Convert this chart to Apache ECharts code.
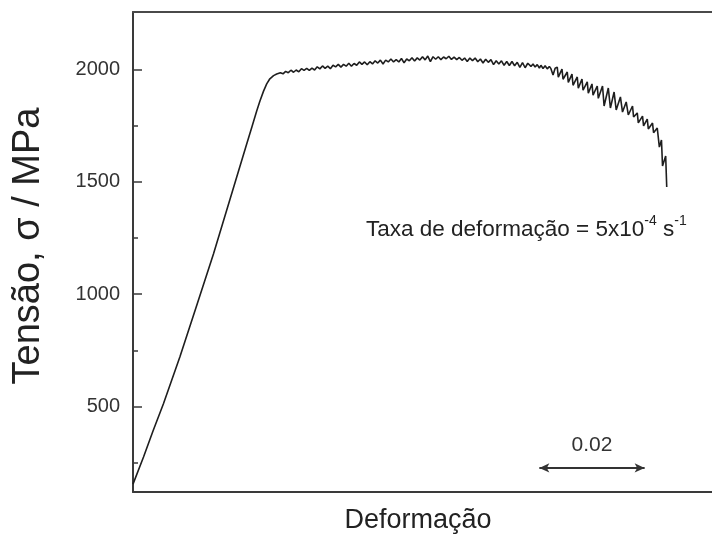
<!DOCTYPE html>
<html>
<head>
<meta charset="utf-8">
<title>Tensão x Deformação</title>
<script src="https://cdn.jsdelivr.net/npm/echarts@6/dist/echarts.min.js"></script>
<style>
  html, body { margin: 0; padding: 0; background: #ffffff; }
  #chart { width: 712px; height: 536px; }
</style>
</head>
<body>
<div id="chart"></div>
<script>
// Stress-strain curve of a tensile test (strain rate 5x10^-4 s^-1)
const yTicks = [500, 1000, 1500, 2000];
const yMinorTicks = [250, 750, 1250, 1750];

// elastic loading up to yield
const elasticStrain = [0.0000, 0.0020, 0.0038, 0.0058, 0.0089, 0.0121, 0.0153, 0.0184, 0.0216,
  0.0226, 0.0235, 0.0241, 0.0248, 0.0254, 0.0260, 0.0267, 0.0273];
const elasticStress = [155, 276, 391, 514, 720, 950, 1180, 1420, 1668,
  1745, 1815, 1858, 1903, 1935, 1958, 1972, 1979];

// plastic flow plateau with small jitter
const plateauStrain = [
  0.0280, 0.0285, 0.0290, 0.0295, 0.0300, 0.0305, 0.0310, 0.0315, 0.0320, 0.0325,
  0.0330, 0.0335, 0.0340, 0.0345, 0.0350, 0.0355, 0.0360, 0.0365, 0.0370, 0.0375,
  0.0380, 0.0385, 0.0390, 0.0395, 0.0400, 0.0405, 0.0410, 0.0415, 0.0420, 0.0425,
  0.0430, 0.0435, 0.0440, 0.0445, 0.0450, 0.0455, 0.0460, 0.0465, 0.0470, 0.0475,
  0.0480, 0.0485, 0.0490, 0.0495, 0.0500, 0.0505, 0.0510, 0.0515, 0.0520, 0.0525,
  0.0530, 0.0535, 0.0540, 0.0545, 0.0550, 0.0555, 0.0560, 0.0565, 0.0570, 0.0575,
  0.0580, 0.0585, 0.0590, 0.0595, 0.0600, 0.0605, 0.0610, 0.0615, 0.0620, 0.0625,
  0.0630, 0.0635, 0.0640, 0.0645, 0.0650, 0.0655, 0.0660, 0.0665, 0.0670, 0.0675,
  0.0680, 0.0685, 0.0690, 0.0695, 0.0700, 0.0705, 0.0710, 0.0715, 0.0720, 0.0725,
  0.0730, 0.0735, 0.0740, 0.0745, 0.0750
];
const plateauStress = [
  1985, 1980, 1991, 1985, 1996, 1987, 1997, 1989, 2003, 1995,
  2004, 1995, 2005, 1997, 2011, 2002, 2015, 2004, 2014, 2003,
  2018, 2011, 2022, 2010, 2022, 2014, 2027, 2014, 2026, 2018,
  2033, 2022, 2033, 2020, 2034, 2024, 2038, 2028, 2041, 2024,
  2041, 2033, 2046, 2033, 2043, 2033, 2048, 2029, 2046, 2038,
  2052, 2037, 2051, 2041, 2056, 2042, 2059, 2034, 2056, 2045,
  2056, 2043, 2055, 2047, 2058, 2044, 2054, 2043, 2053, 2040,
  2050, 2035, 2050, 2039, 2050, 2034, 2046, 2028, 2045, 2031,
  2043, 2021, 2038, 2024, 2038, 2018, 2035, 2017, 2035, 2016,
  2031, 2009, 2030, 2007, 2027
];

// serrated flow before fracture
const serratedStrain = [
  0.0756, 0.0760, 0.0764, 0.0768, 0.0772, 0.0775, 0.0779, 0.0783, 0.0787, 0.0791,
  0.0794, 0.0798, 0.0802, 0.0806, 0.0808, 0.0815, 0.0817, 0.0825, 0.0827, 0.0834,
  0.0836, 0.0844, 0.0846, 0.0853, 0.0855, 0.0863, 0.0865, 0.0872, 0.0874, 0.0882,
  0.0884, 0.0892, 0.0895, 0.0903, 0.0907, 0.0914, 0.0918, 0.0926, 0.0930, 0.0937,
  0.0941, 0.0949, 0.0951, 0.0958, 0.0960, 0.0968, 0.0970, 0.0977, 0.0979, 0.0987,
  0.0989, 0.0996, 0.1000, 0.1004, 0.1006, 0.1012, 0.1014
];
const serratedStress = [
  2013, 2024, 2010, 2021, 2006, 2018, 2004, 2016, 2002, 2013,
  2003, 1975, 2005, 2010, 1965, 2001, 1956, 1988, 1942, 1979,
  1929, 1966, 1916, 1957, 1907, 1944, 1894, 1935, 1885, 1926,
  1871, 1926, 1837, 1917, 1828, 1899, 1819, 1877, 1810, 1855,
  1797, 1837, 1788, 1806, 1762, 1792, 1748, 1779, 1735, 1761,
  1718, 1739, 1654, 1686, 1570, 1614, 1477
];

// scale bar for strain
const scaleBarStrain = [0.0772, 0.0972];
const scaleBarStress = 227;

const strainAll = elasticStrain.concat(plateauStrain, serratedStrain);
const stressAll = elasticStress.concat(plateauStress, serratedStress);
const curve = strainAll.map((s, i) => [s, stressAll[i]]);

const scaleLen = +(scaleBarStrain[1] - scaleBarStrain[0]).toFixed(2);

const FONT = '"Liberation Sans", Arial, Helvetica, sans-serif';
const AXIS_COLOR = '#3a3a3a';

const chart = echarts.init(document.getElementById('chart'), null, { renderer: 'canvas' });

chart.setOption({
  animation: false,
  backgroundColor: '#ffffff',
  grid: { left: 133, right: 0, top: 12, bottom: 44, containLabel: false },
  xAxis: [
    {
      type: 'value', position: 'bottom', min: 0, max: 0.11,
      axisLine: { show: true, onZero: false, lineStyle: { color: AXIS_COLOR, width: 2 } },
      axisTick: { show: false }, axisLabel: { show: false }, splitLine: { show: false }
    },
    {
      type: 'value', position: 'top', min: 0, max: 0.11,
      axisLine: { show: true, onZero: false, lineStyle: { color: '#4a4a4a', width: 2 } },
      axisTick: { show: false }, axisLabel: { show: false }, splitLine: { show: false }
    }
  ],
  yAxis: [
    {
      type: 'value', min: 120, max: 2255, position: 'left',
      axisLine: { show: true, onZero: false, lineStyle: { color: AXIS_COLOR, width: 2 } },
      axisTick: { show: true, inside: true, length: 9, customValues: yTicks,
        lineStyle: { color: AXIS_COLOR, width: 1.5 } },
      axisLabel: { show: true, customValues: yTicks, margin: 13,
        formatter: v => String(v),
        fontFamily: FONT, fontSize: 20, color: '#333333' },
      splitLine: { show: false }
    },
    {
      type: 'value', min: 120, max: 2255, position: 'left',
      axisLine: { show: false },
      axisTick: { show: true, inside: true, length: 5, customValues: yMinorTicks,
        lineStyle: { color: AXIS_COLOR, width: 1.5 } },
      axisLabel: { show: false },
      splitLine: { show: false }
    }
  ],
  series: [
    {
      type: 'line',
      data: curve,
      showSymbol: false,
      symbol: 'none',
      lineStyle: { color: '#1e1e1e', width: 1.6 },
      silent: true,
      markLine: {
        silent: true,
        symbol: ['arrow', 'arrow'],
        symbolSize: [7, 10],
        lineStyle: { color: '#333333', width: 2, type: 'solid' },
        label: {
          show: true, position: 'insideMiddleTop', distance: 12,
          formatter: scaleLen.toFixed(2),
          fontFamily: FONT, fontSize: 21, color: '#333333'
        },
        data: [[
          { coord: [scaleBarStrain[0], scaleBarStress] },
          { coord: [scaleBarStrain[1], scaleBarStress] }
        ]]
      }
    }
  ],
  graphic: [
    {
      type: 'text', x: 29, y: 246, rotation: Math.PI / 2,
      style: {
        text: 'Tensão, σ / MPa', fontFamily: FONT, fontSize: 38,
        fill: '#222222', align: 'center', verticalAlign: 'middle'
      }
    },
    {
      type: 'text', x: 418, y: 521,
      style: {
        text: 'Deformação', fontFamily: FONT, fontSize: 27,
        fill: '#222222', align: 'center', verticalAlign: 'middle'
      }
    },
    {
      type: 'text', x: 366, y: 228,
      style: {
        text: '{t|Taxa de deformação = 5x10}{s|-4}{t| s}{s|-1}',
        fontFamily: FONT, fill: '#222222', align: 'left', verticalAlign: 'middle',
        rich: {
          t: { fontFamily: FONT, fontSize: 22.5, fill: '#222222', lineHeight: 27, verticalAlign: 'bottom' },
          s: { fontFamily: FONT, fontSize: 14, fill: '#222222', lineHeight: 27, verticalAlign: 'top' }
        }
      }
    }
  ]
});
</script>
</body>
</html>
